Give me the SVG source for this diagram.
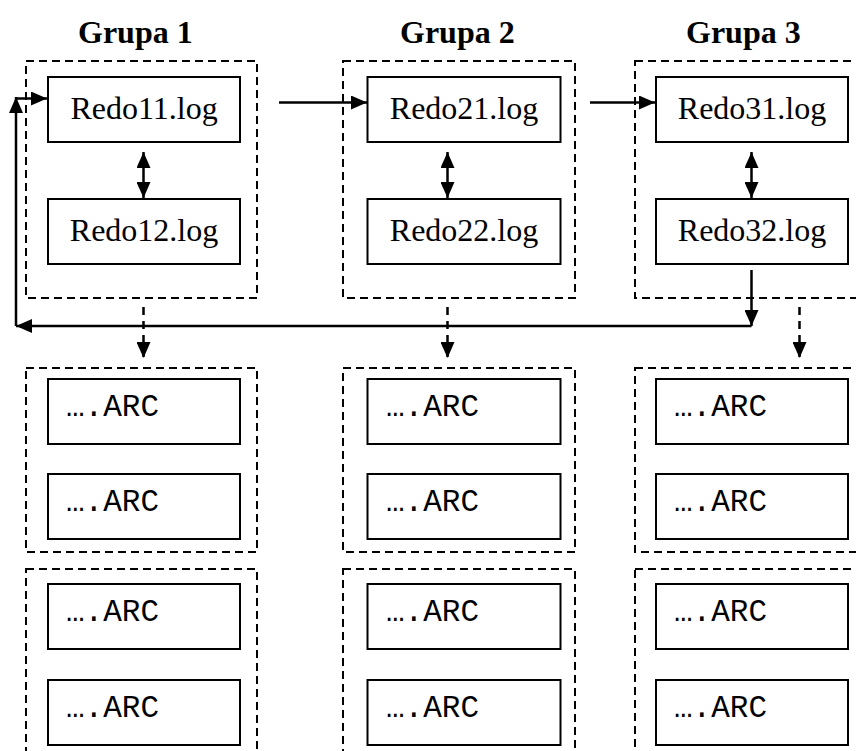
<svg xmlns="http://www.w3.org/2000/svg" width="856" height="751" viewBox="0 0 856 751">
  <style>
    .grp { fill: none; stroke: #000; stroke-width: 2; stroke-dasharray: 8 5; }
    .box { fill: #fff; stroke: #000; stroke-width: 2; }
    .title { font-family: "Liberation Serif", "Times New Roman", serif; font-weight: bold; font-size: 32px; fill: #000; }
    .log { font-family: "Liberation Serif", "Times New Roman", serif; font-size: 32px; fill: #000; text-anchor: middle; }
    .arc { font-family: "Liberation Mono", "Courier New", monospace; font-size: 31px; fill: #000; }
    .wire { fill: none; stroke: #000; stroke-width: 2.5; }
    .dwire { fill: none; stroke: #000; stroke-width: 2.5; stroke-dasharray: 8 6; }
  </style>
  <defs>
    <marker id="head" viewBox="0 0 16 14" refX="16" refY="7" markerWidth="16" markerHeight="14" markerUnits="userSpaceOnUse" orient="auto-start-reverse">
      <path d="M0,0 L16,7 L0,14 z" fill="#000"/>
    </marker>
  </defs>

  <rect width="856" height="751" fill="#fff"/>

  <!-- column headings -->
  <g id="headings">
    <text class="title" x="78" y="43">Grupa 1</text>
    <text class="title" x="400" y="43">Grupa 2</text>
    <text class="title" x="686" y="43">Grupa 3</text>
  </g>

  <!-- redo log groups -->
  <g id="grupa1">
    <rect class="grp" x="26" y="61" width="231" height="237"/>
    <g id="redo11"><rect class="box" x="48" y="77" width="192" height="65"/><text class="log" x="144" y="118.5">Redo11.log</text></g>
    <g id="redo12"><rect class="box" x="48" y="199" width="192" height="65"/><text class="log" x="144" y="240.5">Redo12.log</text></g>
  </g>
  <g id="grupa2">
    <rect class="grp" x="343" y="61" width="232" height="237"/>
    <g id="redo21"><rect class="box" x="367.5" y="77" width="193" height="65"/><text class="log" x="464" y="118.5">Redo21.log</text></g>
    <g id="redo22"><rect class="box" x="367.5" y="199" width="193" height="65"/><text class="log" x="464" y="240.5">Redo22.log</text></g>
  </g>
  <g id="grupa3">
    <rect class="grp" x="635" y="61" width="240" height="237"/>
    <g id="redo31"><rect class="box" x="656" y="77" width="192" height="65"/><text class="log" x="752" y="118.5">Redo31.log</text></g>
    <g id="redo32"><rect class="box" x="656" y="199" width="192" height="65"/><text class="log" x="752" y="240.5">Redo32.log</text></g>
  </g>

  <!-- archive groups -->
  <g id="archiwum1a">
    <rect class="grp" x="26" y="368" width="231" height="184"/>
    <rect class="box" x="48" y="379" width="192" height="65"/><text class="arc" x="66" y="416">….ARC</text>
    <rect class="box" x="48" y="474" width="192" height="65"/><text class="arc" x="66" y="511">….ARC</text>
  </g>
  <g id="archiwum1b">
    <rect class="grp" x="26" y="569" width="231" height="200"/>
    <rect class="box" x="48" y="584" width="192" height="65"/><text class="arc" x="66" y="621">….ARC</text>
    <rect class="box" x="48" y="680" width="192" height="65"/><text class="arc" x="66" y="717">….ARC</text>
  </g>
  <g id="archiwum2a">
    <rect class="grp" x="343" y="368" width="232" height="184"/>
    <rect class="box" x="367.5" y="379" width="193" height="65"/><text class="arc" x="386" y="416">….ARC</text>
    <rect class="box" x="367.5" y="474" width="193" height="65"/><text class="arc" x="386" y="511">….ARC</text>
  </g>
  <g id="archiwum2b">
    <rect class="grp" x="343" y="569" width="232" height="200"/>
    <rect class="box" x="367.5" y="584" width="193" height="65"/><text class="arc" x="386" y="621">….ARC</text>
    <rect class="box" x="367.5" y="680" width="193" height="65"/><text class="arc" x="386" y="717">….ARC</text>
  </g>
  <g id="archiwum3a">
    <rect class="grp" x="635" y="368" width="240" height="184"/>
    <rect class="box" x="656" y="379" width="192" height="65"/><text class="arc" x="674" y="416">….ARC</text>
    <rect class="box" x="656" y="474" width="192" height="65"/><text class="arc" x="674" y="511">….ARC</text>
  </g>
  <g id="archiwum3b">
    <rect class="grp" x="635" y="569" width="240" height="200"/>
    <rect class="box" x="656" y="584" width="192" height="65"/><text class="arc" x="674" y="621">….ARC</text>
    <rect class="box" x="656" y="680" width="192" height="65"/><text class="arc" x="674" y="717">….ARC</text>
  </g>

  <!-- connectors -->
  <g id="connectors">
    <!-- multiplexed members -->
    <path class="wire" d="M143.5,152 V198" marker-start="url(#head)" marker-end="url(#head)"/>
    <path class="wire" d="M447.5,152 V198" marker-start="url(#head)" marker-end="url(#head)"/>
    <path class="wire" d="M751.5,152 V198" marker-start="url(#head)" marker-end="url(#head)"/>
    <!-- log switches -->
    <path class="wire" d="M279,102.5 H367" marker-end="url(#head)"/>
    <path class="wire" d="M590,102.5 H655" marker-end="url(#head)"/>
    <!-- wrap back to the first group -->
    <path class="wire" d="M751.5,270 V326" marker-end="url(#head)"/>
    <path class="wire" d="M751.5,326 H16" marker-end="url(#head)"/>
    <path class="wire" d="M16,326 V97" marker-end="url(#head)"/>
    <path class="wire" d="M16,98.5 H47" marker-end="url(#head)"/>
    <!-- archiving -->
    <path class="dwire" d="M143.5,307 V358" marker-end="url(#head)"/>
    <path class="dwire" d="M447.5,307 V358" marker-end="url(#head)"/>
    <path class="dwire" d="M799.5,307 V358" marker-end="url(#head)"/>
  </g>
</svg>
